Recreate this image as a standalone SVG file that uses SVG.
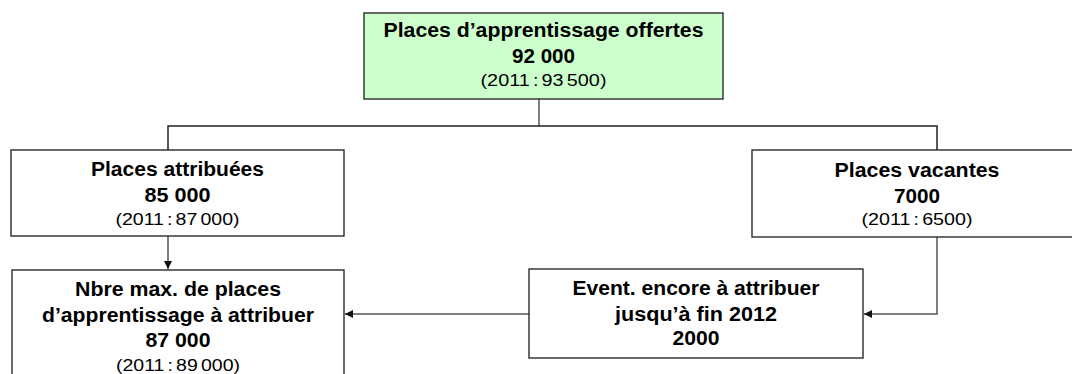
<svg xmlns="http://www.w3.org/2000/svg" width="1072" height="374" viewBox="0 0 1072 374">
  <style>
    .box { fill: #ffffff; stroke: #2b2b2b; stroke-width: 1.4; }
    .green { fill: #ccffcc; }
    .b { font-family: "Liberation Sans", Arial, sans-serif; font-weight: bold; font-size: 20px; fill: #000; text-anchor: middle; }
    .r { font-family: "Liberation Sans", Arial, sans-serif; font-size: 17px; word-spacing: -2px; fill: #000; text-anchor: middle; }
    .conn { fill: none; stroke: #555555; stroke-width: 1.5; }
    .tree { fill: none; stroke: #222222; stroke-width: 1.5; }
  </style>
  <defs>
    <marker id="arrow" markerUnits="userSpaceOnUse" markerWidth="9" markerHeight="8" refX="8" refY="4" orient="auto">
      <path d="M0,0 L8,4 L0,8 z" fill="#111111"/>
    </marker>
  </defs>
  <rect width="1072" height="374" fill="#ffffff"/>

  <g id="connectors">
    <line class="conn" x1="539" y1="99" x2="539" y2="126"/>
    <polyline class="tree" points="168,150 168,126 937,126 937,150"/>
    <line class="conn" x1="168" y1="236" x2="168" y2="269" marker-end="url(#arrow)"/>
    <polyline class="conn" points="937,237 937,314 864,314" marker-end="url(#arrow)"/>
    <line class="conn" x1="529" y1="314" x2="345" y2="314" marker-end="url(#arrow)"/>
  </g>

  <g id="node-offertes">
    <rect class="box green" x="364" y="13" width="359" height="86"/>
    <text class="b" x="543.5" y="37" textLength="320" lengthAdjust="spacingAndGlyphs">Places d’apprentissage offertes</text>
    <text class="b" x="543.5" y="63" textLength="63" lengthAdjust="spacingAndGlyphs">92 000</text>
    <text class="r" x="543.5" y="86" textLength="126" lengthAdjust="spacingAndGlyphs">(2011 : 93 500)</text>
  </g>

  <g id="node-attribuees">
    <rect class="box" x="11" y="150" width="333" height="86"/>
    <text class="b" x="177.5" y="176" textLength="173" lengthAdjust="spacingAndGlyphs">Places attribuées</text>
    <text class="b" x="177.5" y="202" textLength="66" lengthAdjust="spacingAndGlyphs">85 000</text>
    <text class="r" x="177.5" y="225" textLength="124" lengthAdjust="spacingAndGlyphs">(2011 : 87 000)</text>
  </g>

  <g id="node-vacantes">
    <rect class="box" x="752" y="150" width="330" height="87"/>
    <text class="b" x="917" y="177" textLength="165" lengthAdjust="spacingAndGlyphs">Places vacantes</text>
    <text class="b" x="917" y="203" textLength="46" lengthAdjust="spacingAndGlyphs">7000</text>
    <text class="r" x="917" y="225" textLength="111" lengthAdjust="spacingAndGlyphs">(2011 : 6500)</text>
  </g>

  <g id="node-max">
    <rect class="box" x="12" y="270" width="332" height="130"/>
    <text class="b" x="178" y="296" textLength="206" lengthAdjust="spacingAndGlyphs">Nbre max. de places</text>
    <text class="b" x="178" y="322" textLength="272" lengthAdjust="spacingAndGlyphs">d’apprentissage à attribuer</text>
    <text class="b" x="178" y="347" textLength="65" lengthAdjust="spacingAndGlyphs">87 000</text>
    <text class="r" x="178" y="371" textLength="124" lengthAdjust="spacingAndGlyphs">(2011 : 89 000)</text>
  </g>

  <g id="node-event">
    <rect class="box" x="529" y="269" width="334" height="89"/>
    <text class="b" x="696" y="295" textLength="247" lengthAdjust="spacingAndGlyphs">Event. encore à attribuer</text>
    <text class="b" x="696" y="321" textLength="162" lengthAdjust="spacingAndGlyphs">jusqu’à fin 2012</text>
    <text class="b" x="696" y="345" textLength="47" lengthAdjust="spacingAndGlyphs">2000</text>
  </g>
</svg>
